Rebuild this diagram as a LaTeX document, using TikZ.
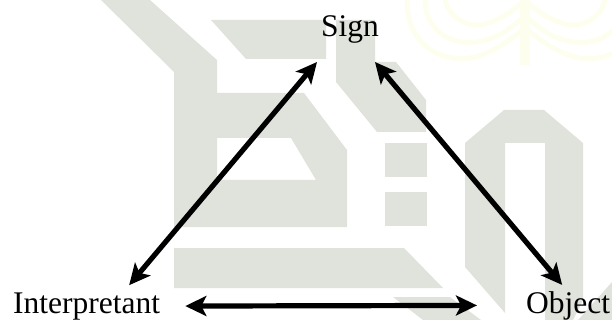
\documentclass[tikz,border=0pt]{standalone}
\usepackage{fontspec}
\setmainfont{Liberation Serif}
\usetikzlibrary{arrows.meta}

\begin{document}
\begin{tikzpicture}[x=1pt, y=-1pt, >={Stealth[length=21pt,width=20pt,inset=5pt]}]

% --- global styles ---
\tikzset{
    every node/.style={font=\fontsize{31.5}{36}\selectfont, inner sep=0pt, text=black},
    biarrow/.style={<->, line width=5.2pt, black},
    wmgrey/.style={fill=wmGrey, draw=none},
    wmyellow/.style={draw=wmYellow, line width=5pt, line cap=round}
}
\definecolor{wmGrey}{RGB}{224,226,220}
\definecolor{wmYellow}{RGB}{254,254,238}

\useasboundingbox (0,0) rectangle (612,320);

% --- faint seal, top right ---
\foreach \side in {1,-1} {
\begin{scope}[shift={(525,0)}, xscale=\side]
    \draw[wmyellow] (118,0) .. controls (118,45) and (85,62) .. (55,58) .. controls (35,55) and (15,40) .. (0,28);
    \draw[wmyellow] (100,0) .. controls (100,30) and (75,45) .. (50,42) .. controls (30,40) and (15,30) .. (0,15);
    \draw[wmyellow] (80,0) .. controls (75,20) and (55,28) .. (40,24) .. controls (25,20) and (10,10) .. (0,0);
    \fill[wmYellow] (-5,0) rectangle (5,65);
\end{scope}
}

% --- grey shapes behind the triangle ---
\path[wmgrey, even odd rule] (101,0) -- (150,0) -- (217,60) -- (217,93) -- (304,93) -- (347,150) -- (347,227) -- (174,227) -- (174,72) -- cycle
    (217,138) -- (291,138) -- (316,180) -- (217,180) -- cycle;
\path[wmgrey] (211,20) -- (326,20) -- (326,59) -- (246,59) -- cycle;
\path[wmgrey] (336,20) -- (375,20) -- (375,62) -- (396,62) -- (426,100) -- (426,132) -- (377,132) -- (336,82) -- cycle;
\path[wmgrey] (385,143) rectangle (427,177);
\path[wmgrey] (385,192) rectangle (427,226);
\path[wmgrey] (174,248) -- (404,248) -- (443,288) -- (174,288) -- cycle;
\path[wmgrey] (393,297) -- (450,297) -- (481,320) -- (423,320) -- cycle;
\path[wmgrey] (465,143) -- (504,110) -- (544,110) -- (583,143) -- (583,300) -- (573,320) -- (545,320) -- (545,143) -- (505,143) -- (505,313) -- (465,267) -- cycle;
\path[wmgrey] (612,282) -- (578,320) -- (612,320) -- cycle;

% --- labels ---
\node[anchor=base] (sign) at (350,37) {Sign};
\node[anchor=base west] (interp) at (13,313) {Interpretant};
\node[anchor=base west] (object) at (526,313) {Object};

% --- double arrows ---
\draw[biarrow] ([xshift=42.5pt,yshift=7pt]interp.north) -- ([xshift=-33pt,yshift=-18pt]sign.south);
\draw[biarrow] ([xshift=25pt,yshift=-18pt]sign.south) -- ([xshift=-6pt,yshift=6pt]object.north);
\draw[biarrow] ([xshift=25pt]interp.east) -- ([xshift=-49pt]object.west);
\end{tikzpicture}
\end{document}
